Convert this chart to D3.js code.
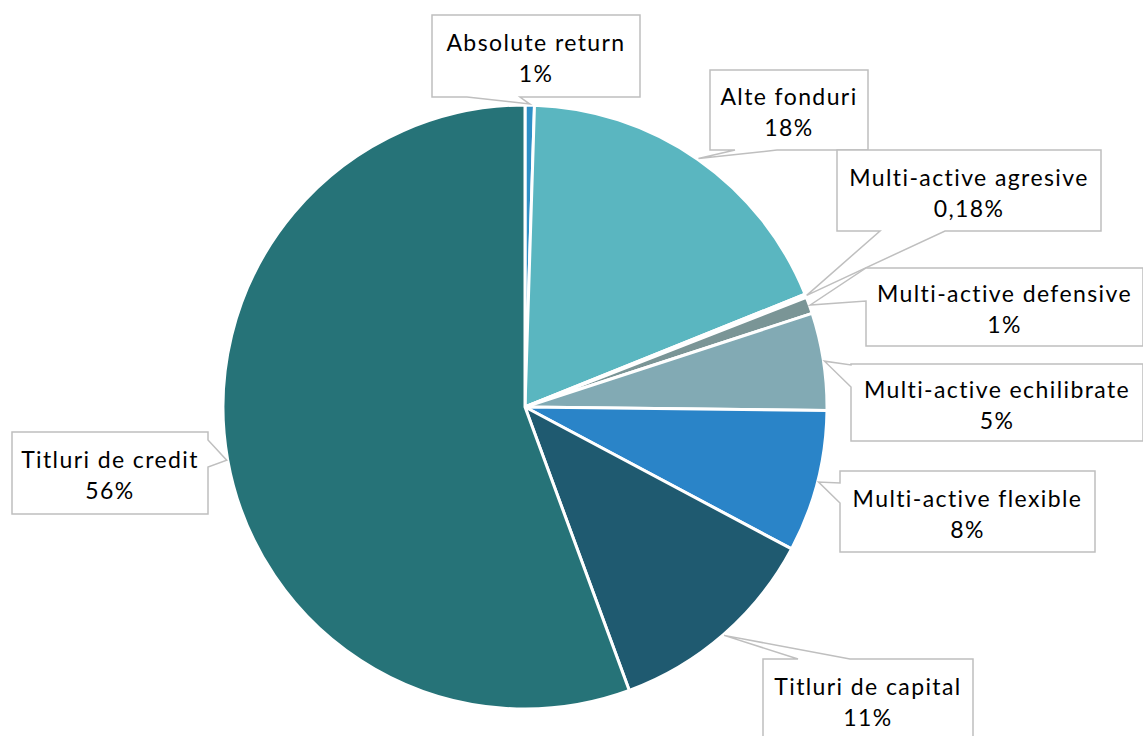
<!DOCTYPE html>
<html lang="ro">
<head>
<meta charset="UTF-8">
<title>Structura fondurilor</title>
<script src="https://d3js.org/d3.v7.min.js"></script>
<style>
  body { margin: 0; background: #fff; }
  .callout { fill: #fff; stroke: #bfbfbf; stroke-width: 1.5; }
  .lbl { font-family: Lato, "Liberation Sans", sans-serif; font-size: 23px; letter-spacing: 1.4px; fill: #000; text-anchor: middle; }
</style>
</head>
<body>
<svg width="1143" height="736"></svg>
<script>
// data
const categories = ["Absolute return", "Alte fonduri", "Multi-active agresive", "Multi-active defensive",
  "Multi-active echilibrate", "Multi-active flexible", "Titluri de capital", "Titluri de credit"];
const shares = [0.5, 18.4, 0.18, 0.9, 5.2, 7.6, 11.6, 55.6];
const pctLabels = ["1%", "18%", "0,18%", "1%", "5%", "8%", "11%", "56%"];
const colors = ["#2f8fc6", "#5ab6c0", "#ffffff", "#7a9596", "#82aab4", "#2a84c8", "#1f5a70", "#267378"];

// callout layout: box [x0, y0, x1, y1], side of the pointer, pointer base [a, b] along that side
const callouts = [
  { box: [432, 15, 640, 97], side: "bottom", base: [467, 520] },
  { box: [710, 70, 868, 150], side: "bottom", base: [735, 777] },
  { box: [837, 150, 1101, 231], side: "bottom", base: [880, 945] },
  { box: [866, 268, 1143, 346], side: "left", base: [268, 301] },
  { box: [851, 364, 1143, 441], side: "left", base: [365, 387] },
  { box: [840, 471, 1095, 552], side: "left", base: [483, 503] },
  { box: [763, 659, 973, 745], side: "top", base: [798, 850] },
  { box: [12, 432, 208, 514], side: "right", base: [440, 467] }
];

const cx = 525, cy = 407, r = 302;
const svg = d3.select("svg");
const g = svg.append("g").attr("transform", `translate(${cx},${cy})`);

const data = categories.map((c, i) => ({ name: c, value: shares[i], label: pctLabels[i], color: colors[i] }));
const pie = d3.pie().value(d => d.value).sort(null);
const arcs = pie(data);
const arc = d3.arc().innerRadius(0).outerRadius(r);

g.selectAll("path.slice")
  .data(arcs)
  .enter()
  .append("path")
  .attr("class", "slice")
  .attr("d", arc)
  .attr("fill", d => d.data.color)
  .attr("stroke", "#fff")
  .attr("stroke-width", 3)
  .attr("stroke-linejoin", "round");

function calloutPath(c, tip) {
  const [x0, y0, x1, y1] = c.box;
  const [a, b] = c.base;
  const p = [];
  // clockwise round the box, wedge inserted on its side
  p.push([x0, y0]);
  if (c.side === "top") p.push([a, y0], tip, [b, y0]);
  p.push([x1, y0]);
  if (c.side === "right") p.push([x1, a], tip, [x1, b]);
  p.push([x1, y1]);
  if (c.side === "bottom") p.push([b, y1], tip, [a, y1]);
  p.push([x0, y1]);
  if (c.side === "left") p.push([x0, b], tip, [x0, a]);
  return "M" + p.map(q => q.join(",")).join("L") + "Z";
}

const tipArc = d3.arc().innerRadius(r + 1).outerRadius(r + 1);
arcs.forEach((d, i) => {
  const c = callouts[i];
  const t = tipArc.centroid(d);
  const tip = [t[0] + cx, t[1] + cy];
  svg.append("path")
    .attr("class", "callout")
    .attr("d", calloutPath(c, tip));
  const mx = (c.box[0] + Math.min(c.box[2], 1143)) / 2;
  const my = (c.box[1] + Math.min(c.box[3], c.box[1] + 82)) / 2;
  const t1 = svg.append("text").attr("class", "lbl").attr("x", mx);
  t1.append("tspan").attr("x", mx).attr("y", my - 5).text(d.data.name);
  t1.append("tspan").attr("x", mx).attr("y", my + 26).text(d.data.label);
});
</script>
</body>
</html>
